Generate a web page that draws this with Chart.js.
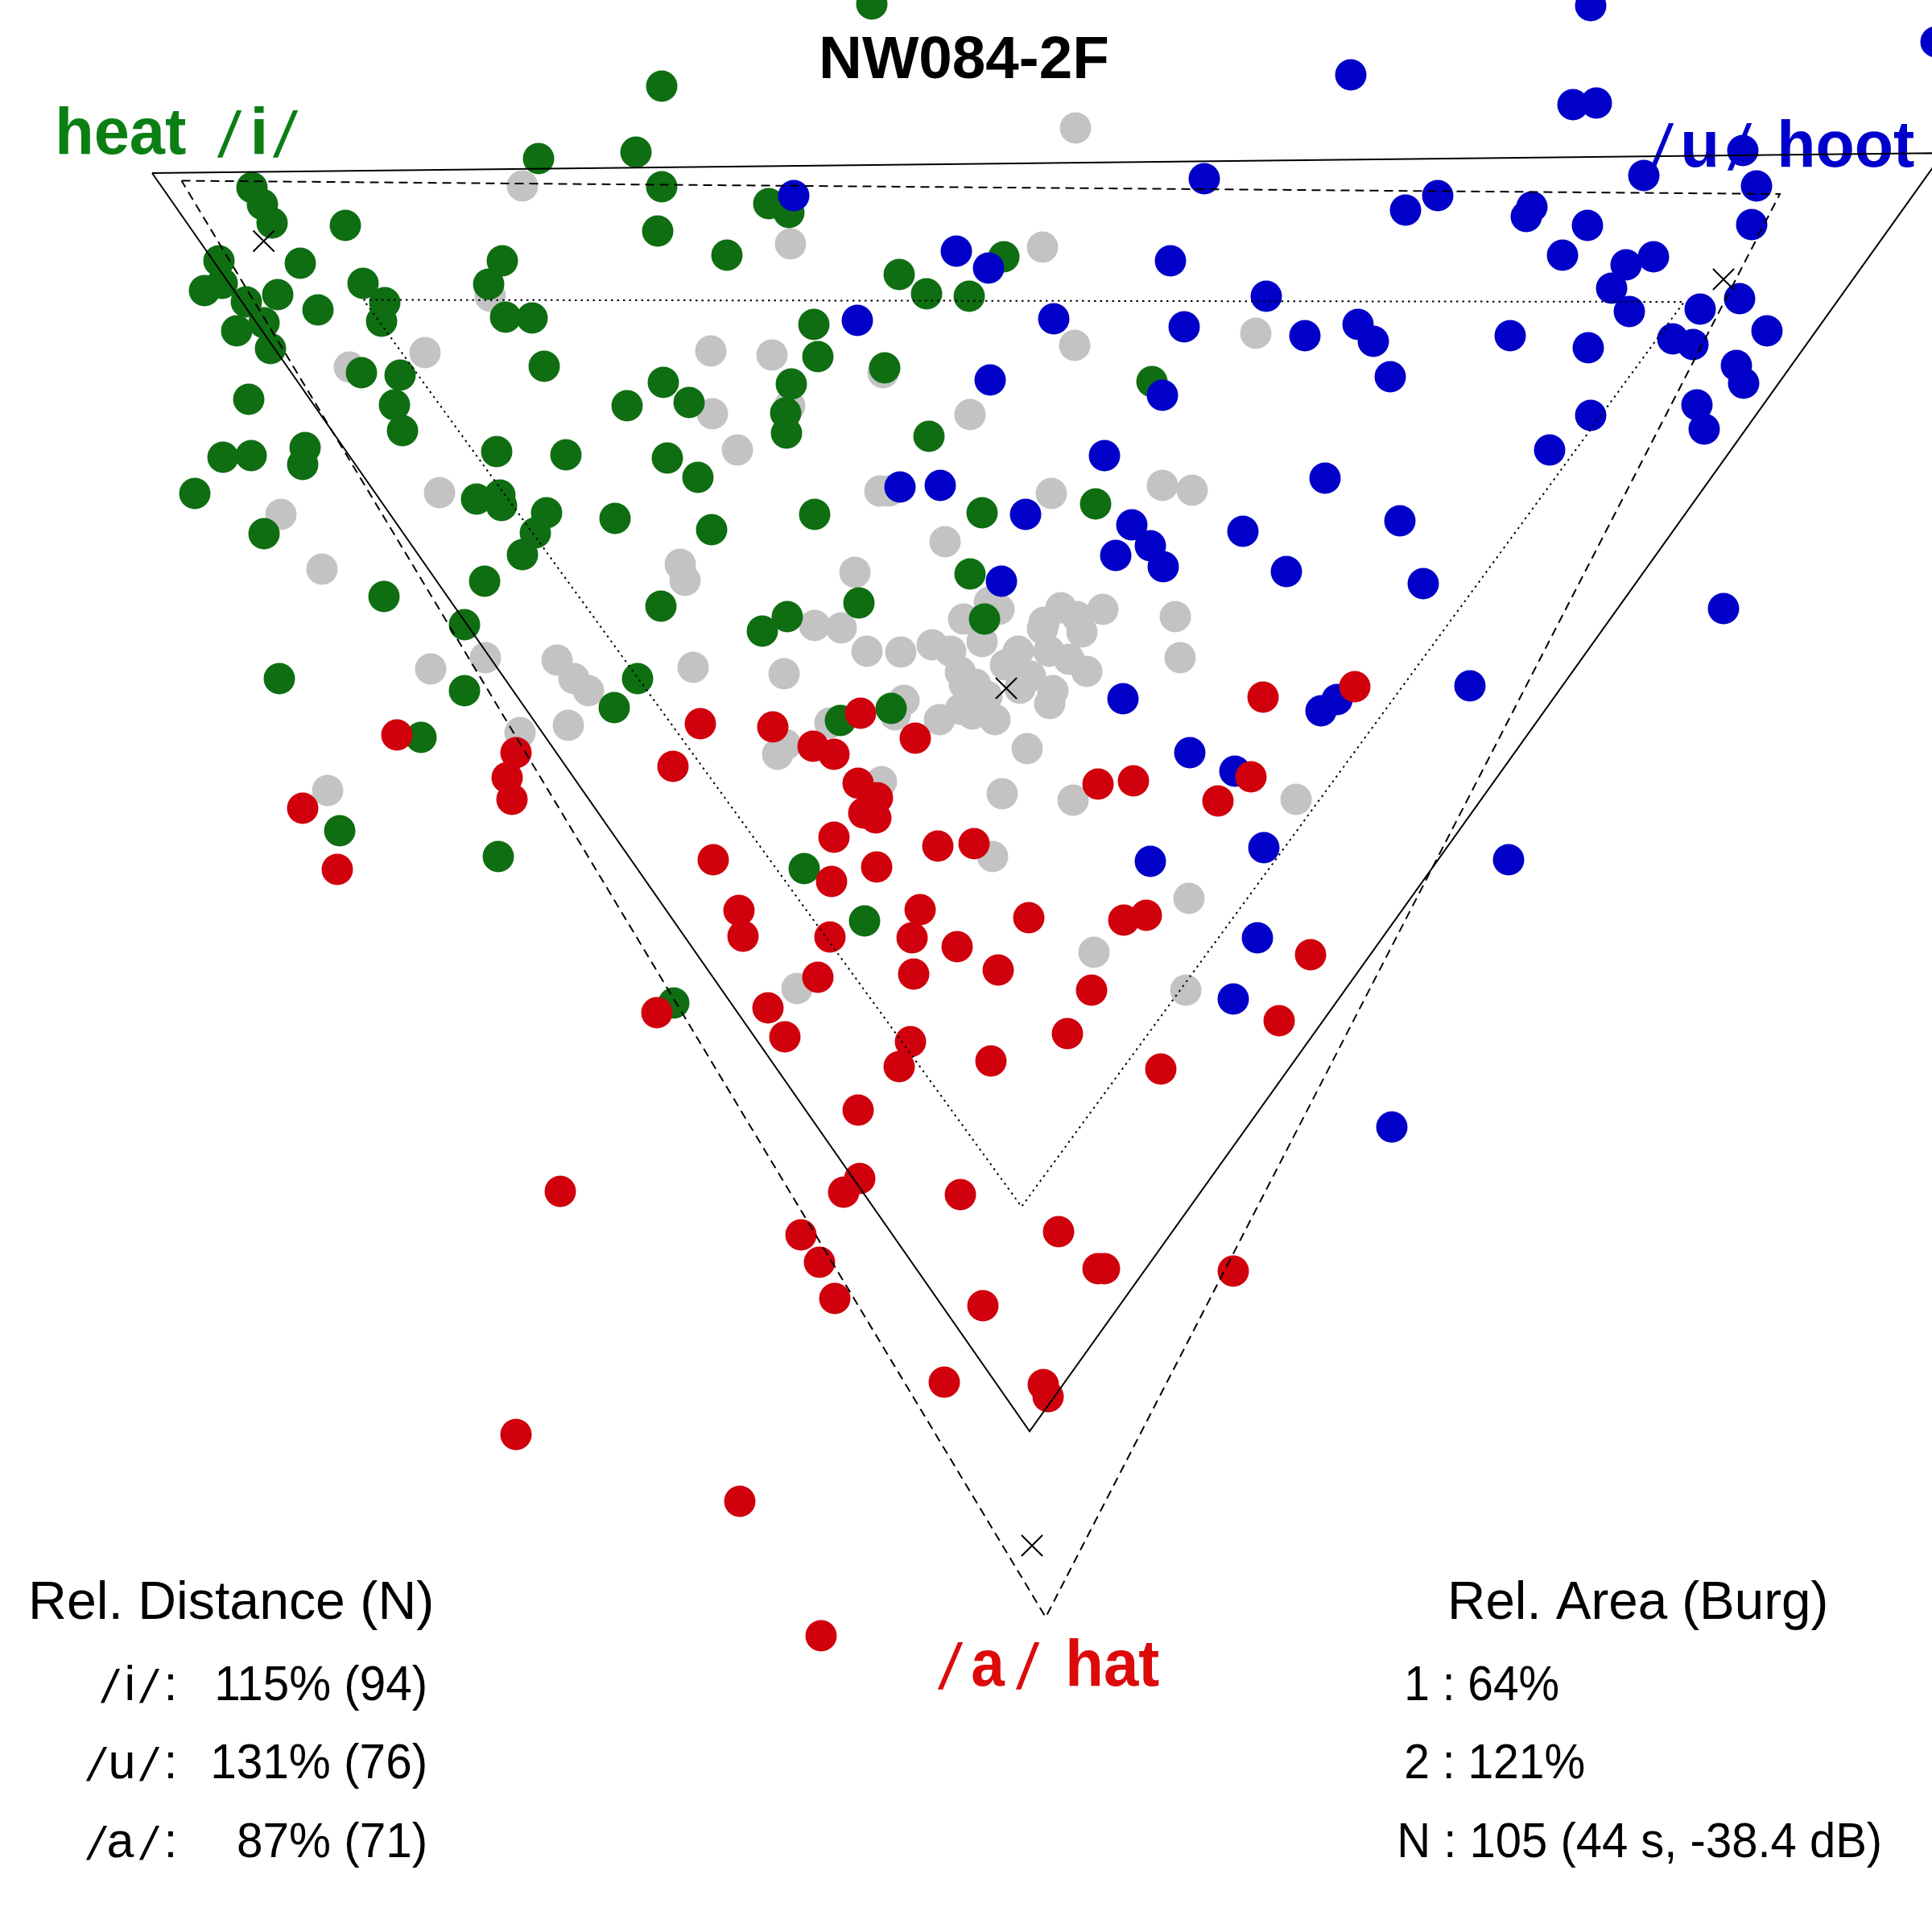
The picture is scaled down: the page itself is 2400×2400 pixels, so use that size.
<!DOCTYPE html>
<html>
<head>
<meta charset="utf-8">
<script src="https://cdn.jsdelivr.net/npm/chart.js@4.4.1/dist/chart.umd.min.js"></script>
<style>
html,body{margin:0;padding:0;background:#fff;}
#c{display:block;}
</style>
</head>
<body>
<canvas id="c" width="2400" height="2400"></canvas>
<script>
// ---- data (plot units: x to the right, y downward, 0..2400) ----
const greenPts = [
[313,233],[326,254],[338,277],[429,280],[272,324],[276,352],[254,361],[373,327],[345,366],[306,375],
[395,385],[328,401],[294,411],[336,433],[451,352],[478,376],[474,399],[624,324],[607,353],[628,394],
[661,395],[676,455],[449,463],[497,466],[490,503],[500,535],[309,496],[779,504],[617,561],[703,565],
[277,568],[312,566],[379,556],[376,577],[242,613],[592,620],[621,615],[623,628],[679,637],[665,662],
[649,689],[764,644],[328,663],[477,741],[602,722],[577,776],[669,197],
[1083,5],[822,107],[790,189],[822,232],[817,287],[955,253],[980,264],[903,317],[1117,341],[1151,365],
[1204,368],[1247,319],[1011,403],[1016,443],[1099,457],[983,477],[976,513],[977,538],[824,475],[856,500],
[829,569],[867,593],[1154,542],[1431,474],
[1012,639],[884,658],[1220,637],[1361,626],[1205,713],[1223,769],[1067,749],[978,766],[947,784],[821,753],
[1044,895],[1107,880],[999,1079],[1074,1144],[837,1246],
[347,843],[577,858],[763,879],[792,843],[523,916],[422,1032],[619,1064]
];
const bluePts = [
[986,243],[1496,222],[1188,312],[1228,333],[1454,324],[1573,368],[1065,398],[1309,396],[1471,406],[1230,472],
[1444,491],[1372,566],
[1118,605],[1168,603],[1274,639],[1406,652],[1429,678],[1386,690],[1445,704],[1544,660],[1244,722],[1395,868],
[1478,935],[1534,958],[1570,1053],[1429,1070],[1562,1165],[1532,1241],
[1976,7],[1678,93],[1954,130],[1983,128],[2042,218],[2165,187],[2182,231],[2176,279],[1746,261],[1786,243],
[1903,257],[1896,269],[1972,280],[1941,317],[2020,329],[2054,319],[2002,358],[2024,387],[2112,384],[2161,371],
[2195,411],[2078,421],[2103,428],[2157,454],[2166,476],[2108,503],[2117,533],[1973,432],[1976,516],[1925,559],
[1876,417],[1687,403],[1706,424],[1727,468],[1621,417],[1646,594],[1739,647],[1598,710],[1768,725],[2141,756],
[2405,52],
[1641,883],[1661,869],[1826,852],[1874,1068],[1729,1400]
];
const redPts = [
[1569,866],[1554,965],[1513,995],[1364,974],[1408,970],[870,899],[960,903],[1069,886],[1137,917],[836,952],
[1010,927],[1036,937],[1066,973],[1090,991],[1073,1010],[1088,1016],[1036,1040],[1165,1051],[1210,1048],[886,1068],
[1089,1077],[1033,1095],[918,1131],[923,1163],[1143,1130],[1133,1165],[1189,1176],[1278,1140],[1396,1143],[1424,1137],
[1240,1205],[1031,1164],[1135,1210],[1016,1214],[1356,1230],[816,1258],[954,1252],[975,1288],[1326,1284],[1131,1294],
[1117,1325],[1231,1318],[1442,1328],[1589,1268],[1066,1379],
[1683,853],[1628,1186],
[493,913],[641,935],[630,966],[636,993],[376,1004],[419,1080],[696,1480],
[1068,1464],[1048,1481],[1193,1484],[1315,1530],[1364,1576],[1372,1576],[995,1534],[1018,1568],[1037,1613],[1221,1622],
[1532,1579],[1173,1717],[1296,1720],[1302,1735],[919,1865],[1020,2032],
[641,1782]
];
const greyPts = [
[649,231],[609,368],[434,456],[528,438],[546,612],[349,639],[400,707],
[1336,159],[982,303],[1295,307],[1560,414],[1335,429],[883,436],[959,441],[1097,463],[885,514],[981,504],[916,559],[1205,515],
[1093,610],[1104,610],[1306,613],[1444,603],[1481,609],[1174,673],[845,701],[851,721],[1062,711],[1229,748],
[1241,757],[1197,769],[1220,797],[1318,755],[1338,766],[1370,757],[1297,773],[1295,781],[1344,785],[1460,766],
[1466,817],[1012,777],[1045,780],[1077,809],[1119,810],[1158,801],[1181,809],[861,829],[974,837],[1193,835],
[1265,809],[1303,809],[1328,819],[1350,834],[1249,826],[1280,840],[1267,855],[1212,850],[1198,850],[1226,865],
[1308,858],[1304,874],[1193,881],[1208,887],[1167,894],[1236,894],[1123,870],[1112,888],[1031,898],[976,925],
[966,937],[1095,971],[1276,930],[1245,986],[1333,994],[1233,1064],[1477,1116],[1359,1183],[1473,1230],[990,1228],
[1610,993],
[535,831],[603,817],[692,820],[713,843],[731,858],[706,901],[646,910],[407,982]
];
// triangles (vertex values) and centroid markers
const triSolid  = [[189,215],[2414,190],[1279,1778]];
const triDashed = [[225.5,224.5],[2211,241],[1299,2009]];
const triDotted = [[451.5,372.5],[2092,375],[1269,1499]];
const centroids = [[327.6,299.5],[2141,347],[1250,855],[1282,1920]];

const titleText = "NW084-2F";
const distHeader = "Rel. Distance (N)";
const distVowels = ["i", "u", "a"];
const distValues = ["115% (94)", "131% (76)", "87% (71)"];
const areaHeader = "Rel. Area (Burg)";
const areaRows = ["1 : 64%", "2 : 121%", "N : 105 (44 s, -38.4 dB)"];

// ---- colours ----
const C_GREEN = '#0f6e12', C_BLUE = '#0000c8', C_RED = '#d0000c', C_GREY = '#c3c3c3';
const T_GREEN = '#0b7f14', T_BLUE = '#0000cc', T_RED = '#dc0a0a';

const xy = a => a.map(p => ({x: p[0], y: p[1]}));
const closed = a => xy(a.concat([a[0]]));

function pts(arr, col, ord){
  return {data: xy(arr), backgroundColor: col, borderWidth: 0, pointRadius: 19.5,
          pointHoverRadius: 19.5, order: ord, showLine: false};
}
function tri(arr, dash, ord){
  return {data: closed(arr), showLine: true, pointRadius: 0, borderColor: '#000',
          borderWidth: 2, borderDash: dash, fill: false, tension: 0, order: ord};
}

const SANS = '"Liberation Sans", Arial, Helvetica, sans-serif';

// draw text so that its ink spans [left, right] exactly, on the given baseline
function fitText(ctx, txt, left, right, base, size, weight, family, color){
  ctx.save();
  ctx.font = weight + ' ' + size + 'px ' + family;
  ctx.fillStyle = color;
  ctx.textBaseline = 'alphabetic';
  ctx.textAlign = 'left';
  const m = ctx.measureText(txt);
  const ink = m.actualBoundingBoxLeft + m.actualBoundingBoxRight;
  const sx = (right - left) / ink;
  ctx.translate(left + m.actualBoundingBoxLeft * sx, base);
  ctx.scale(sx, 1);
  ctx.fillText(txt, 0, 0);
  ctx.restore();
}
// draw text unscaled, its ink centred in [left, right]
function centreText(ctx, txt, left, right, base, size, weight, family, color){
  ctx.save();
  ctx.font = weight + ' ' + size + 'px ' + family;
  ctx.fillStyle = color;
  ctx.textBaseline = 'alphabetic';
  ctx.textAlign = 'left';
  const m = ctx.measureText(txt);
  const ink = m.actualBoundingBoxLeft + m.actualBoundingBoxRight;
  const x0 = (left + right) / 2 - ink / 2 + m.actualBoundingBoxLeft;
  ctx.fillText(txt, x0, base);
  ctx.restore();
}
// slash: spans [left,right], slanted with a skew instead of stretching
function slash(ctx, left, right, base, size, color){
  ctx.save();
  ctx.font = 'normal ' + size + 'px ' + SANS;
  ctx.fillStyle = color;
  ctx.textBaseline = 'alphabetic';
  const m = ctx.measureText('/');
  const ink = m.actualBoundingBoxLeft + m.actualBoundingBoxRight;
  const h = m.actualBoundingBoxAscent;
  const extra = (right - left) - ink;
  ctx.translate(left + m.actualBoundingBoxLeft, base);
  ctx.transform(1, 0, -extra / h, 1, 0, 0);
  ctx.fillText('/', 0, 0);
  ctx.restore();
}

const textPlugin = {
  id: 'texts',
  beforeDraw(chart){
    const ctx = chart.ctx;
    ctx.save(); ctx.fillStyle = '#fff'; ctx.fillRect(0,0,chart.width,chart.height); ctx.restore();
  },
  beforeDatasetsDraw(chart){
    const ctx = chart.ctx;
    // title
    fitText(ctx, titleText, 1022, 1376, 97, 75, 'bold', SANS, '#000');
    // heat /i/
    fitText(ctx, 'heat', 73, 231, 191, 82, 'bold', SANS, T_GREEN);
    slash(ctx, 270, 301, 195, 80, T_GREEN);
    centreText(ctx, 'i', 316, 327, 191, 82, 'bold', SANS, T_GREEN);
    slash(ctx, 339, 371, 195, 80, T_GREEN);
    // /u/ hoot
    slash(ctx, 2049, 2080, 211, 80, T_BLUE);
    fitText(ctx, 'u', 2092, 2131, 207, 82, 'bold', SANS, T_BLUE);
    slash(ctx, 2146, 2177, 211, 80, T_BLUE);
    fitText(ctx, 'hoot', 2212, 2378, 207, 82, 'bold', SANS, T_BLUE);
    // /a/ hat
    slash(ctx, 1165, 1197, 2098, 80, T_RED);
    fitText(ctx, 'a', 1208, 1249, 2094, 82, 'bold', SANS, T_RED);
    slash(ctx, 1262, 1292, 2098, 80, T_RED);
    fitText(ctx, 'hat', 1328, 1440, 2094, 82, 'bold', SANS, T_RED);
    // left block
    fitText(ctx, distHeader, 40, 536, 2011, 67, 'normal', SANS, '#000');
    const firstSlash = [[125,150],[107,134],[107,134]];
    const letter = [[157,166],[138,164],[135,166]];
    const val = [[270,528],[265,528],[296,528]];
    const bases = [2112, 2209, 2307];
    for (let i = 0; i < 3; i++){
      const b = bases[i];
      slash(ctx, firstSlash[i][0], firstSlash[i][1], b + 3, 58, '#000');
      centreText(ctx, distVowels[i], letter[i][0], letter[i][1], b, 61, 'normal', SANS, '#000');
      slash(ctx, 173, 199, b + 3, 58, '#000');
      centreText(ctx, ':', 208, 216, b, 61, 'normal', SANS, '#000');
      fitText(ctx, distValues[i], val[i][0], val[i][1], b, 61, 'normal', SANS, '#000');
    }
    // right block
    fitText(ctx, areaHeader, 1803, 2268, 2011, 67, 'normal', SANS, '#000');
    const ar = [[1748,1936,2112],[1747,1968,2209],[1740,2335,2307]];
    for (let i = 0; i < 3; i++){
      fitText(ctx, areaRows[i], ar[i][0], ar[i][1], ar[i][2], 61, 'normal', SANS, '#000');
    }
  }
};

new Chart(document.getElementById('c'), {
  type: 'scatter',
  data: {datasets: [
    tri(triSolid, [], 0),
    tri(triDashed, [11, 7], 0),
    tri(triDotted, [2.5, 5], 0),
    {data: xy(centroids), pointStyle: 'crossRot', pointRadius: 18.5, borderColor: '#000',
     borderWidth: 2, backgroundColor: '#000', order: 0},
    pts(redPts, C_RED, 1),
    pts(bluePts, C_BLUE, 2),
    pts(greenPts, C_GREEN, 3),
    pts(greyPts, C_GREY, 4)
  ]},
  options: {
    responsive: false, animation: false, devicePixelRatio: 1, events: [],
    layout: {padding: 0, autoPadding: false},
    plugins: {legend: {display: false}, tooltip: {enabled: false}, title: {display: false}},
    scales: {
      x: {type: 'linear', min: 0, max: 2400, display: false},
      y: {type: 'linear', min: 0, max: 2400, reverse: true, display: false}
    }
  },
  plugins: [textPlugin]
});
</script>
</body>
</html>
